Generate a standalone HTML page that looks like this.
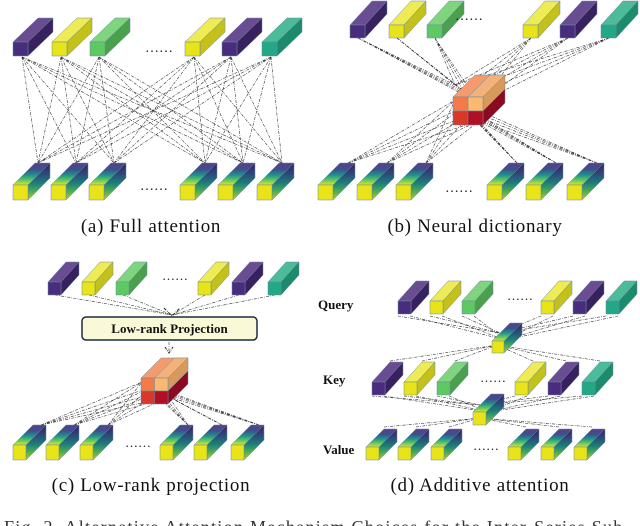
<!DOCTYPE html>
<html><head><meta charset="utf-8"><style>
html,body{margin:0;padding:0;background:#fff;}
svg{display:block;}
</style></head><body>
<svg id="s" width="640" height="526" viewBox="0 0 640 526" xmlns="http://www.w3.org/2000/svg">
<defs>
<linearGradient id="g" x1="0" y1="0" x2="0" y2="1">
<stop offset="0" stop-color="#5a3d8a"/><stop offset="0.3" stop-color="#3b528b"/>
<stop offset="0.55" stop-color="#21918c"/><stop offset="0.78" stop-color="#5ec962"/><stop offset="1" stop-color="#e8e419"/>
</linearGradient>
<linearGradient id="g2" x1="0" y1="0" x2="0" y2="1">
<stop offset="0" stop-color="#3a1d60"/><stop offset="0.3" stop-color="#2c4a7a"/>
<stop offset="0.55" stop-color="#1d7f7a"/><stop offset="0.78" stop-color="#4fb050"/><stop offset="1" stop-color="#c9c61a"/>
</linearGradient>
</defs>
<g id="lines" fill="none" stroke="#333" stroke-width="0.6" stroke-dasharray="3,1.2,0.8,1.2"></g>
<g id="cubes"></g>
<g font-family="Liberation Serif, serif" fill="#111">
<text x="151" y="232" font-size="19" letter-spacing="0.7" text-anchor="middle">(a)  Full attention</text>
<text x="475" y="232" font-size="19" letter-spacing="0.7" text-anchor="middle">(b)  Neural dictionary</text>
<text x="151" y="491" font-size="19" letter-spacing="0.7" text-anchor="middle">(c)  Low-rank projection</text>
<text x="480" y="491" font-size="19" letter-spacing="0.7" text-anchor="middle">(d)  Additive attention</text>
<text x="318" y="309" font-size="13" font-weight="bold" text-anchor="start">Query</text>
<text x="323" y="384" font-size="13" font-weight="bold">Key</text>
<text x="323" y="454" font-size="13" font-weight="bold">Value</text>
<text x="4" y="533" font-size="18" letter-spacing="1.3" fill="#333">Fig. 2.   Alternative Attention Mechanism Choices for the Inter-Series Sub</text>
<text x="145" y="52" font-size="14">……</text>
<text x="455" y="20" font-size="14">……</text>
<text x="140" y="190" font-size="14">……</text>
<text x="445" y="192" font-size="14">……</text>
<text x="162" y="280" font-size="13">……</text>
<text x="125" y="447" font-size="13">……</text>
<text x="507" y="300" font-size="13">……</text>
<text x="480" y="382" font-size="13">……</text>
<text x="473" y="450" font-size="13">……</text>
</g>
<rect x="82" y="317" width="175" height="23" rx="4" fill="#f9f9d8" stroke="#1d2a44" stroke-width="1.5"/>
<text x="169.5" y="333" font-family="Liberation Serif, serif" font-weight="bold" font-size="13" text-anchor="middle" fill="#111">Low-rank Projection</text>
</svg>
<script>
var NS="http://www.w3.org/2000/svg";
var L=document.getElementById('lines'),C=document.getElementById('cubes');
var COL={p:['#472d7b','#6a4c93','#38215f'],y:['#e8e419','#efeb55','#c4c11a'],g:['#5ec962','#7fd57e','#4aa04d'],t:['#22a884','#4cbb9a','#1c8a6c']};
function poly(pts,f,parent){var e=document.createElementNS(NS,'polygon');e.setAttribute('points',pts.map(function(p){return p.join(',')}).join(' '));e.setAttribute('fill',f);e.setAttribute('stroke','#6b8aa0');e.setAttribute('stroke-width','0.5');(parent||C).appendChild(e);}
function cube(x,y,w,h,dx,dy,c){
 var top=[[x,y],[x+dx,y+dy],[x+w+dx,y+dy],[x+w,y]];
 var side=[[x+w,y],[x+w+dx,y+dy],[x+w+dx,y+h+dy],[x+w,y+h]];
 if(c==='v'){poly(top,'url(#g)');poly(side,'url(#g2)');poly([[x,y],[x+w,y],[x+w,y+h],[x,y+h]],'#e8e419');}
 else{var k=COL[c];poly(top,k[1]);poly(side,k[2]);poly([[x,y],[x+w,y],[x+w,y+h],[x,y+h]],k[0]);}
}
function line(a,b){var e=document.createElementNS(NS,'line');e.setAttribute('x1',a[0]);e.setAttribute('y1',a[1]);e.setAttribute('x2',b[0]);e.setAttribute('y2',b[1]);L.appendChild(e);}
function block(x,y,w,h,d){
 var hw=w/2,hh=h/2;
 poly([[x,y],[x+d,y-d],[x+w+d,y-d],[x+w,y]],'#f59a6c');
 poly([[x+hw,y],[x+hw+d,y-d],[x+w+d,y-d],[x+w,y]],'#f2b27a');
 poly([[x+w,y],[x+w+d,y-d],[x+w+d,y+hh-d],[x+w,y+hh]],'#d59a5c');
 poly([[x+w,y+hh],[x+w+d,y+hh-d],[x+w+d,y+h-d],[x+w,y+h]],'#8a0a22');
 poly([[x,y],[x+hw,y],[x+hw,y+hh],[x,y+hh]],'#f47a48');
 poly([[x+hw,y],[x+w,y],[x+w,y+hh],[x+hw,y+hh]],'#fbb870');
 poly([[x,y+hh],[x+hw,y+hh],[x+hw,y+h],[x,y+h]],'#d9372a');
 poly([[x+hw,y+hh],[x+w,y+hh],[x+w,y+h],[x+hw,y+h]],'#b00f25');
}
var tc=['p','y','g','y','p','t'];
var ax=[13,52,90,185,222,262],bx=[13,51,89,180,218,257];
ax.forEach(function(x){bx.forEach(function(b){line([x+9,57],[b+25,163]);});});
ax.forEach(function(x,i){cube(x,42,15,14,25,-24,tc[i]);});
bx.forEach(function(x){cube(x,185,15,15,22,-22,'v');});
var px=[350,389,427,523,560,601],qx=[318,357,396,487,526,567];
px.forEach(function(x){for(var k=0;k<4;k++)line([x+8,38],[455+k*8,85+k*6]);});
qx.forEach(function(x){for(var k=0;k<4;k++)line([x+30,163],[455+k*8,100+k*7]);});
px.forEach(function(x,i){cube(x,25,15,13,22,-24,tc[i]);});
qx.forEach(function(x){cube(x,185,15,15,22,-22,'v');});
block(453,97,30,28,22);
var cx=[48,82,116,198,232,268],dx=[13,46,80,160,194,231];
cx.forEach(function(x){line([x+7,295],[172,315]);});
line([169,342],[169,352]);
dx.forEach(function(x){for(var k=0;k<4;k++)line([x+28,425],[142+k*9,382+k*5]);});
var ar=document.createElementNS(NS,'path');ar.setAttribute('d','M164,308 L172,316 L180,308 M165,347 L169,353 L173,347');ar.setAttribute('fill','none');ar.setAttribute('stroke','#222');ar.setAttribute('stroke-width','1');L.appendChild(ar);
cx.forEach(function(x,i){cube(x,282,13,13,18,-20,tc[i]);});
dx.forEach(function(x){cube(x,445,13,15,20,-20,'v');});
block(141,378,27,26,20);
var qq=[398,430,462,541,573,606],kk=[372,404,437,515,548,582],vv=[366,398,431,508,541,574];
qq.forEach(function(x){line([x,316],[500,333]);line([x+12,316],[505,340]);});
kk.forEach(function(x){line([x+18,361],[497,345]);});
kk.forEach(function(x){line([x,396],[480,405]);line([x+12,396],[488,412]);});
vv.forEach(function(x){line([x+18,427],[480,418]);});
qq.forEach(function(x,i){cube(x,301,13,13,18,-20,tc[i]);});
cube(492,341,12,12,18,-18,'v');
kk.forEach(function(x,i){cube(x,382,13,13,18,-20,tc[i]);});
cube(473,412,13,13,18,-18,'v');
vv.forEach(function(x){cube(x,447,13,13,18,-18,'v');});
</script>
</body></html>
